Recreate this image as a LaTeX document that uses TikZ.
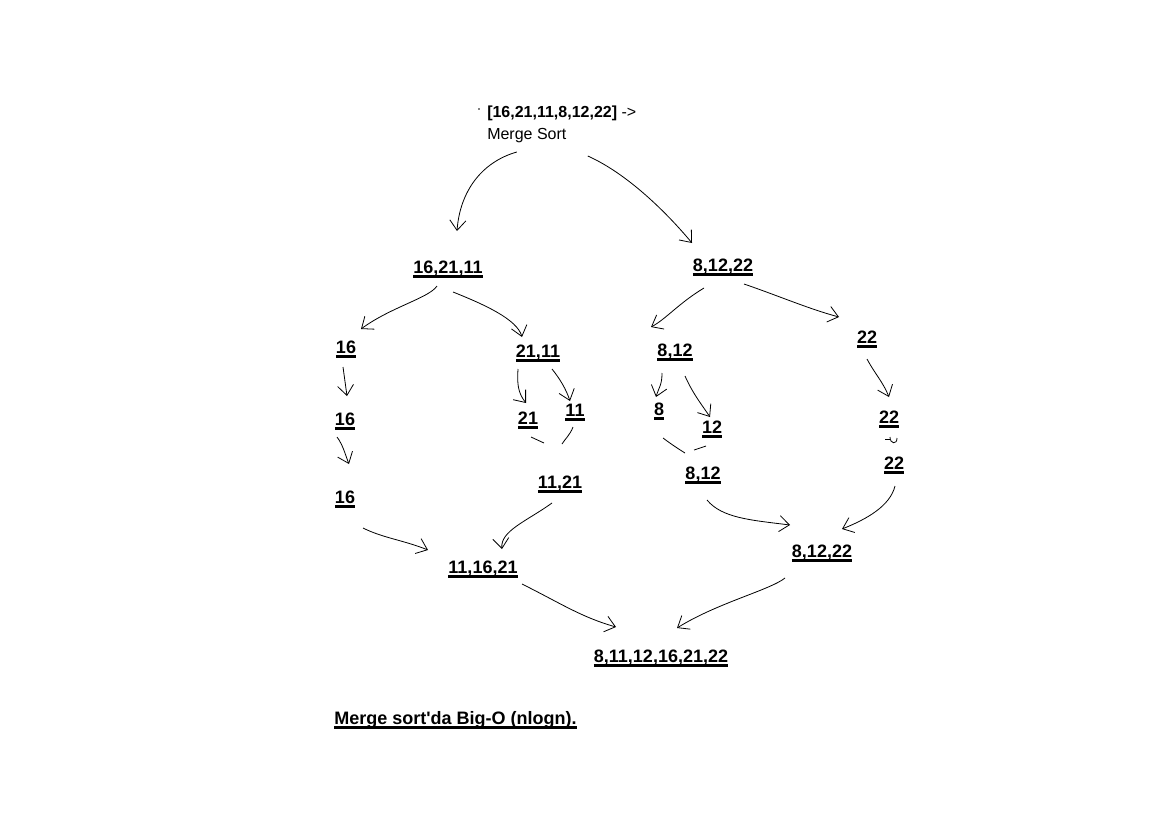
\documentclass[tikz,border=0pt]{standalone}
\usepackage{fontspec}
\setmainfont{Liberation Sans}
\usetikzlibrary{arrows.meta}
\newcommand\myul[1]{\setbox0\hbox{#1}\rlap{\vrule width\wd0 height -1.6pt depth 3.4pt}\box0}
\begin{document}
\begin{tikzpicture}[x=0.75pt,y=-0.75pt,
  lbl/.style={font=\fontsize{13.5}{16}\selectfont\bfseries, inner sep=0pt, anchor=base},
  plain/.style={font=\fontsize{12}{14}\selectfont, inner sep=0pt, anchor=base west},
  arr/.style={line width=0.6pt, -{Straight Barb[length=7.5pt,width=12pt]}},
  ln/.style={line width=0.6pt}]
\fill[white] (0,0) rectangle (1152,825);
\useasboundingbox (0,0) rectangle (1152,825);

% title
\node[plain] (top1) at (487,117) {\textbf{[16,21,11,8,12,22]} ->};
\node[plain] (top2) at (487,139) {Merge Sort};
\fill (479,109) circle (0.9);

% labels
\node[lbl] (L1) at (448,273) {\myul{16,21,11}};
\node[lbl] (R1) at (723,271) {\myul{8,12,22}};
\node[lbl] (A16) at (346,353) {\myul{16}};
\node[lbl] (N2111) at (538,357) {\myul{21,11}};
\node[lbl] (N812a) at (675,356) {\myul{8,12}};
\node[lbl] (N22a) at (867,343) {\myul{22}};
\node[lbl] (B16) at (345,425) {\myul{16}};
\node[lbl] (N21) at (528,424) {\myul{21}};
\node[lbl] (N11) at (575,416) {\myul{11}};
\node[lbl] (N8) at (659,415) {\myul{8}};
\node[lbl] (N12) at (712,433) {\myul{12}};
\node[lbl] (N22b) at (889,423) {\myul{22}};
\node[lbl] (N22c) at (894,469) {\myul{22}};
\node[lbl] (C16) at (345,503) {\myul{16}};
\node[lbl] (N1121) at (560,488) {\myul{11,21}};
\node[lbl] (N812c) at (703,479) {\myul{8,12}};
\node[lbl] (N111621) at (483,573) {\myul{11,16,21}};
\node[lbl] (N81222b) at (822,557) {\myul{8,12,22}};
\node[lbl] (F) at (661,662) {\myul{8,11,12,16,21,22}};
\node[lbl, anchor=base west] (note) at (334,724) {\myul{Merge sort\textquotesingle da Big-O (nlogn).}};

% connectors
\draw[arr] ([shift={(-10,13)}]top2.base) .. controls +(-35,10) and +(3,-40) .. ([shift={(9,-42)}]L1.base);
\draw[arr] ([shift={(61,17)}]top2.base) .. controls +(40,18) and +(-25,-30) .. ([shift={(-31,-28)}]R1.base);

\draw[arr] ([shift={(-11,13)}]L1.base) .. controls +(-8,12) and +(30,-22) .. ([shift={(15,-24)}]A16.base);
\draw[arr] ([shift={(5,19)}]L1.base) .. controls +(30,12) and +(-5,-18) .. ([shift={(-16,-20)}]N2111.base);

\draw[arr] ([shift={(-3,14)}]A16.base) -- ([shift={(2,-29)}]B16.base);
\draw[arr] ([shift={(-8,12)}]B16.base) .. controls +(6,8) and +(-4,-10) .. ([shift={(4,-39)}]C16.base);

\draw[arr] ([shift={(-20,12)}]N2111.base) .. controls +(-1,15) and +(-8,-10) .. ([shift={(-2,-21)}]N21.base);
\draw[arr] ([shift={(14,12)}]N2111.base) .. controls +(8,10) and +(-4,-12) .. ([shift={(-5,-15)}]N11.base);

\draw[ln] ([shift={(3,13)}]N21.base) -- ([shift={(-16,-45)}]N1121.base);
\draw[ln] ([shift={(-2,11)}]N11.base) .. controls +(-3,8) and +(3,-5) .. ([shift={(2,-44)}]N1121.base);

\draw[arr] ([shift={(-8,15)}]N1121.base) .. controls +(-25,18) and +(-2,-18) .. ([shift={(19,-24)}]N111621.base);
\draw[arr] ([shift={(18,25)}]C16.base) .. controls +(20,10) and +(-25,-10) .. ([shift={(-55,-23)}]N111621.base);

\draw[arr] ([shift={(39,11)}]N111621.base) .. controls +(40,20) and +(-35,-10) .. ([shift={(-45,-35)}]F.base);
\draw[arr] ([shift={(-37,21)}]N81222b.base) .. controls +(-15,12) and +(40,-25) .. ([shift={(16,-34)}]F.base);

\draw[arr] ([shift={(-19,17)}]R1.base) .. controls +(-25,15) and +(15,-8) .. ([shift={(-24,-29)}]N812a.base);
\draw[arr] ([shift={(21,13)}]R1.base) .. controls +(35,12) and +(-30,-8) .. ([shift={(-28,-26)}]N22a.base);

\draw[arr] ([shift={(-13,17)}]N812a.base) .. controls +(0,12) and +(3,-10) .. ([shift={(-3,-18)}]N8.base);
\draw[arr] ([shift={(10,20)}]N812a.base) .. controls +(8,18) and +(-8,-12) .. ([shift={(-2,-16)}]N12.base);

\draw[ln] ([shift={(4,23)}]N8.base) .. controls +(8,6) and +(-8,-5) .. ([shift={(-18,-26)}]N812c.base);
\draw[ln] ([shift={(-6,13)}]N12.base) -- ([shift={(-9,-29)}]N812c.base);

\draw[arr] ([shift={(4,21)}]N812c.base) .. controls +(15,18) and +(-40,-5) .. ([shift={(-32,-32)}]N81222b.base);

\draw[arr] ([shift={(0,16)}]N22a.base) .. controls +(8,15) and +(-6,-15) .. ([shift={(0,-26)}]N22b.base);
\draw[ln] ([shift={(-4,16)}]N22b.base) -- ([shift={(-4,-30)}]N22c.base);
\draw[ln] ([shift={(1,14)}]N22b.base) .. controls +(0,7) and +(0,7) .. ([shift={(3,-31)}]N22c.base);
\draw[arr] ([shift={(1,17)}]N22c.base) .. controls +(-5,20) and +(25,-10) .. ([shift={(20,-28)}]N81222b.base);
\end{tikzpicture}
\end{document}
